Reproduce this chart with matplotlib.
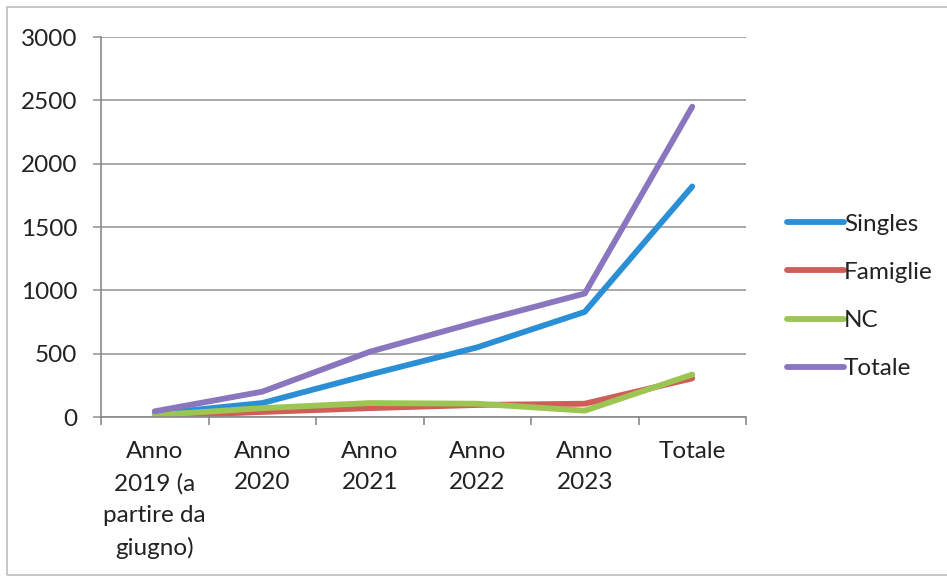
import matplotlib
matplotlib.use("Agg")
import matplotlib.pyplot as plt
from matplotlib.patches import Rectangle
from matplotlib.lines import Line2D

categories = ["Anno\n2019 (a\npartire da\ngiugno)", "Anno\n2020", "Anno\n2021", "Anno\n2022", "Anno\n2023", "Totale"]
singles = [25, 110, 335, 550, 830, 1820]
famiglie = [5, 40, 70, 95, 105, 305]
nc = [15, 70, 110, 105, 50, 335]
totale = [45, 200, 515, 750, 975, 2450]
series_names = ["Singles", "Famiglie", "NC", "Totale"]
yticks = [0, 500, 1000, 1500, 2000, 2500, 3000]

colors = ["#2b8fd6", "#cf5e58", "#9dc553", "#8a76bf"]

plt.rcParams['font.family'] = ['Lato', 'DejaVu Sans']
FS = 17.5

W, H = 947, 579
fig = plt.figure(figsize=(W / 100, H / 100), dpi=100)
fig.patch.set_facecolor("white")

# chart border
fig.add_artist(Rectangle((7 / W, 4 / H), (W + 10) / W, (H - 11) / H, transform=fig.transFigure,
                         fill=False, edgecolor="#bdbdbd", lw=1.2))

ax = fig.add_axes([101 / W, (H - 417) / H, (746 - 101) / W, (417 - 37) / H])
x = list(range(len(categories)))
for vals, c, name in zip([singles, famiglie, nc, totale], colors, series_names):
    ax.plot(x, vals, color=c, lw=4.2, solid_capstyle="round", solid_joinstyle="round", label=name)

ax.set_xlim(-0.5, len(categories) - 0.5)
ax.set_ylim(0, 3000)
ax.set_yticks(yticks)
ax.set_yticklabels([str(v) for v in yticks], fontsize=FS, color="#222222")
ax.yaxis.grid(True, color="#9a9a9a", lw=1.2)
ax.set_axisbelow(True)

ax.set_xticks([i - 0.5 for i in range(len(categories) + 1)])
ax.set_xticklabels([])
ax.set_xticks(x, minor=True)
ax.set_xticklabels(categories, minor=True, fontsize=FS, color="#222222", linespacing=1.63, va="top")
ax.tick_params(axis="x", which="minor", length=0, pad=17)
ax.tick_params(axis="x", which="major", length=6, color="#8a8a8a", width=1.2, direction="out")
ax.tick_params(axis="y", length=6, color="#9a9a9a", width=1.2, pad=11)

for s in ["top", "right"]:
    ax.spines[s].set_visible(False)
for s in ["left", "bottom"]:
    ax.spines[s].set_color("#8a8a8a")
    ax.spines[s].set_linewidth(1.2)

handles = [Line2D([0], [0], color=c, lw=4.2, solid_capstyle="round") for c in colors]
leg = fig.legend(handles, series_names, loc="upper left", bbox_to_anchor=(777 / W, 1 - 204 / H),
                 frameon=False, fontsize=FS, handlelength=2.35, handletextpad=0.0,
                 labelspacing=1.12, borderaxespad=0)
for t in leg.get_texts():
    t.set_color("#222222")

fig.savefig("out.png", dpi=100, facecolor="white")
